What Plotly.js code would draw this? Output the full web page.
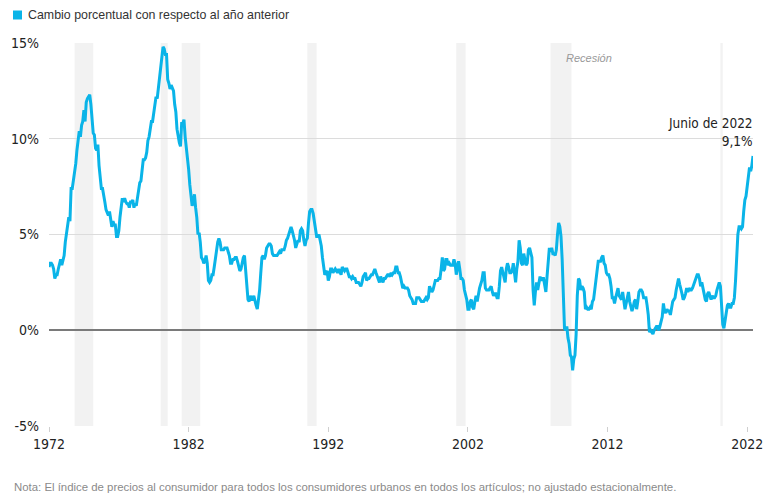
<!DOCTYPE html>
<html>
<head>
<meta charset="utf-8">
<script src="https://cdn.plot.ly/plotly-3.0.1.min.js"></script>
<style>
html,body{margin:0;padding:0;background:#fff;}
#chart{width:780px;height:498px;}
</style>
</head>
<body>
<div id="chart"></div>
<script>
// Monthly CPI-U year-over-year % change, Jan 1972 – Jun 2022 (one row per year)
const startYear = 1972;
const cpiByYear = [
  [3.3, 3.5, 3.5, 3.4, 3.2, 2.7, 2.9, 2.9, 3.2, 3.4, 3.7, 3.4], // 1972
  [3.6, 3.9, 4.6, 5.1, 5.5, 5.9, 5.7, 7.4, 7.4, 7.8, 8.3, 8.7], // 1973
  [9.4, 10.0, 10.4, 10.1, 10.7, 10.9, 11.5, 10.9, 11.9, 12.1, 12.2, 12.3], // 1974
  [11.8, 11.2, 10.3, 10.2, 9.5, 9.4, 9.7, 8.6, 7.9, 7.4, 7.4, 6.9], // 1975
  [6.7, 6.3, 6.1, 6.0, 6.2, 5.9, 5.4, 5.7, 5.5, 5.5, 4.9, 4.9], // 1976
  [5.2, 5.9, 6.4, 6.9, 6.7, 6.9, 6.7, 6.6, 6.6, 6.4, 6.7, 6.7], // 1977
  [6.8, 6.4, 6.6, 6.5, 6.9, 7.4, 7.7, 7.8, 8.3, 8.9, 8.9, 9.0], // 1978
  [9.3, 9.9, 10.1, 10.5, 10.9, 10.9, 11.3, 11.8, 12.2, 12.1, 12.6, 13.3], // 1979
  [13.9, 14.2, 14.8, 14.7, 14.4, 14.4, 13.1, 12.9, 12.6, 12.8, 12.6, 12.5], // 1980
  [11.8, 11.4, 10.5, 10.0, 9.8, 9.6, 10.8, 10.8, 11.0, 10.1, 9.6, 8.9], // 1981
  [8.4, 7.6, 6.8, 6.5, 6.7, 7.1, 6.4, 5.9, 5.0, 5.1, 4.6, 3.8], // 1982
  [3.7, 3.5, 3.6, 3.9, 3.5, 2.6, 2.5, 2.6, 2.9, 2.9, 3.3, 3.8], // 1983
  [4.2, 4.6, 4.8, 4.6, 4.2, 4.2, 4.2, 4.3, 4.3, 4.3, 4.1, 3.9], // 1984
  [3.5, 3.5, 3.7, 3.7, 3.8, 3.8, 3.6, 3.3, 3.1, 3.2, 3.5, 3.8], // 1985
  [3.9, 3.1, 2.2, 1.6, 1.5, 1.8, 1.6, 1.6, 1.8, 1.5, 1.3, 1.1], // 1986
  [1.5, 2.1, 3.0, 3.8, 3.9, 3.7, 3.9, 4.3, 4.4, 4.5, 4.5, 4.4], // 1987
  [4.0, 3.9, 3.9, 3.9, 3.9, 4.0, 4.1, 4.0, 4.2, 4.2, 4.2, 4.4], // 1988
  [4.7, 4.8, 5.0, 5.1, 5.4, 5.2, 5.0, 4.7, 4.3, 4.5, 4.7, 4.6], // 1989
  [5.2, 5.3, 5.2, 4.7, 4.4, 4.7, 4.8, 5.6, 6.2, 6.3, 6.3, 6.1], // 1990
  [5.7, 5.3, 4.9, 4.9, 5.0, 4.7, 4.4, 3.8, 3.4, 2.9, 3.0, 3.1], // 1991
  [2.6, 2.8, 3.2, 3.2, 3.0, 3.1, 3.2, 3.1, 3.0, 3.2, 3.0, 2.9], // 1992
  [3.3, 3.2, 3.1, 3.2, 3.2, 3.0, 2.8, 2.8, 2.7, 2.8, 2.7, 2.7], // 1993
  [2.5, 2.5, 2.5, 2.4, 2.3, 2.5, 2.8, 2.9, 3.0, 2.6, 2.7, 2.7], // 1994
  [2.8, 2.9, 2.9, 3.1, 3.2, 3.0, 2.8, 2.6, 2.5, 2.8, 2.6, 2.5], // 1995
  [2.7, 2.7, 2.8, 2.9, 2.9, 2.8, 3.0, 2.9, 3.0, 3.0, 3.3, 3.3], // 1996
  [3.0, 3.0, 2.8, 2.5, 2.2, 2.3, 2.2, 2.2, 2.2, 2.1, 1.8, 1.7], // 1997
  [1.6, 1.4, 1.4, 1.4, 1.7, 1.7, 1.7, 1.6, 1.5, 1.5, 1.5, 1.6], // 1998
  [1.7, 1.6, 1.7, 2.3, 2.1, 2.0, 2.1, 2.3, 2.6, 2.6, 2.6, 2.7], // 1999
  [2.7, 3.2, 3.8, 3.1, 3.2, 3.7, 3.7, 3.4, 3.5, 3.4, 3.4, 3.4], // 2000
  [3.7, 3.5, 2.9, 3.3, 3.6, 3.2, 2.7, 2.7, 2.6, 2.1, 1.9, 1.6], // 2001
  [1.1, 1.1, 1.5, 1.6, 1.2, 1.1, 1.5, 1.8, 1.5, 2.0, 2.2, 2.4], // 2002
  [2.6, 3.0, 3.0, 2.2, 2.1, 2.1, 2.1, 2.2, 2.3, 2.0, 1.8, 1.9], // 2003
  [1.9, 1.7, 1.7, 2.3, 3.1, 3.3, 3.0, 2.7, 2.5, 3.2, 3.5, 3.3], // 2004
  [3.0, 3.0, 3.1, 3.5, 2.8, 2.5, 3.2, 3.6, 4.7, 4.3, 3.5, 3.4], // 2005
  [4.0, 3.6, 3.4, 3.5, 4.2, 4.3, 4.1, 3.8, 2.1, 1.3, 2.0, 2.5], // 2006
  [2.1, 2.4, 2.8, 2.6, 2.7, 2.7, 2.4, 2.0, 2.8, 3.5, 4.3, 4.1], // 2007
  [4.3, 4.0, 4.0, 3.9, 4.2, 5.0, 5.6, 5.4, 4.9, 3.7, 1.1, 0.1], // 2008
  [0.0, 0.2, -0.4, -0.7, -1.3, -1.4, -2.1, -1.5, -1.3, -0.2, 1.8, 2.7], // 2009
  [2.6, 2.1, 2.3, 2.2, 2.0, 1.1, 1.2, 1.1, 1.1, 1.2, 1.1, 1.5], // 2010
  [1.6, 2.1, 2.7, 3.2, 3.6, 3.6, 3.6, 3.8, 3.9, 3.5, 3.4, 3.0], // 2011
  [2.9, 2.9, 2.7, 2.3, 1.7, 1.7, 1.4, 1.7, 2.0, 2.2, 1.8, 1.7], // 2012
  [1.6, 2.0, 1.5, 1.1, 1.4, 1.8, 2.0, 1.5, 1.2, 1.0, 1.2, 1.5], // 2013
  [1.6, 1.1, 1.5, 2.0, 2.1, 2.1, 2.0, 1.7, 1.7, 1.7, 1.3, 0.8], // 2014
  [-0.1, 0.0, -0.1, -0.2, 0.0, 0.1, 0.2, 0.2, 0.0, 0.2, 0.5, 0.7], // 2015
  [1.4, 1.0, 0.9, 1.1, 1.0, 1.0, 0.8, 1.1, 1.5, 1.6, 1.7, 2.1], // 2016
  [2.5, 2.7, 2.4, 2.2, 1.9, 1.6, 1.7, 1.9, 2.2, 2.0, 2.2, 2.1], // 2017
  [2.1, 2.2, 2.4, 2.5, 2.8, 2.9, 2.9, 2.7, 2.3, 2.5, 2.2, 1.9], // 2018
  [1.6, 1.5, 1.9, 2.0, 1.8, 1.6, 1.8, 1.7, 1.7, 1.8, 2.1, 2.3], // 2019
  [2.5, 2.3, 1.5, 0.3, 0.1, 0.6, 1.0, 1.3, 1.4, 1.2, 1.2, 1.4], // 2020
  [1.4, 1.7, 2.6, 4.2, 5.0, 5.4, 5.4, 5.3, 5.4, 6.2, 6.8, 7.0], // 2021
  [7.5, 7.9, 8.5, 8.3, 8.6, 9.1]                                 // 2022 (Jan–Jun)
];

// Recession periods (decimal years, start/end)
const recessionStarts = [1973.833, 1980.0, 1981.5, 1990.5, 2001.167, 2007.917, 2020.083];
const recessionEnds   = [1975.167, 1980.5, 1982.833, 1991.167, 2001.833, 2009.417, 2020.25];

const tickYears = [1972, 1982, 1992, 2002, 2012, 2022];
const yTicks = [-5, 0, 5, 10, 15];

const legendText = "Cambio porcentual con respecto al año anterior";
const noteText = "Nota: El índice de precios al consumidor para todos los consumidores urbanos en todos los artículos; no ajustado estacionalmente.";
const endLabel = "Junio de 2022<br>9,1%";
const recessionLabel = "Recesión";

// Build series
const xs = [], ys = [];
cpiByYear.forEach((row, i) => {
  row.forEach((v, m) => { xs.push(startYear + i + m / 12); ys.push(v); });
});

const M = {l: 49, r: 27, t: 43, b: 72};
const W = 780, H = 498;
const pw = W - M.l - M.r, ph = H - M.t - M.b;
const px = p => (p - M.l) / pw;          // pixel -> paper x
const py = p => (H - M.b - p) / ph;      // pixel -> paper y

const condensed = "'DejaVu Sans Condensed', 'Liberation Sans Narrow', 'Arial Narrow', sans-serif";
const lineColor = "#0ab4e8";

const shapes = recessionStarts.map((s, i) => ({
  type: 'rect', xref: 'x', yref: 'paper', x0: s, x1: recessionEnds[i], y0: 0, y1: 1,
  fillcolor: '#f2f2f2', line: {width: 0}, layer: 'below'
}));
shapes.push({
  type: 'rect', xref: 'paper', yref: 'paper',
  x0: px(13), x1: px(22), y0: py(19.5), y1: py(10.5),
  fillcolor: lineColor, line: {width: 0}
});

const lastX = xs[xs.length - 1], lastY = ys[ys.length - 1];

const annotations = [
  {xref: 'paper', yref: 'paper', x: px(26), y: py(15), xanchor: 'left', yanchor: 'middle',
   text: legendText, showarrow: false, font: {family: 'Liberation Sans, Arial, sans-serif', size: 12.4, color: '#333'}},
  {xref: 'paper', yref: 'paper', x: px(12), y: py(487), xanchor: 'left', yanchor: 'middle',
   text: noteText, showarrow: false, font: {family: 'Liberation Sans, Arial, sans-serif', size: 11.4, color: '#8a8a8a'}},
  {xref: 'x', yref: 'paper', x: 2008.9, y: py(58), xanchor: 'left', yanchor: 'middle',
   text: '<i>' + recessionLabel + '</i>', showarrow: false, font: {family: 'Liberation Sans, Arial, sans-serif', size: 11, color: '#999'}},
  {xref: 'x', yref: 'y', x: lastX, y: lastY, xanchor: 'right', yanchor: 'bottom', align: 'right',
   xshift: 2, yshift: 5, text: endLabel, showarrow: false,
   font: {family: condensed, size: 13.5, color: '#222'}}
];

const trace = {
  x: xs, y: ys, type: 'scatter', mode: 'lines',
  line: {color: lineColor, width: 3, shape: 'linear'},
  hoverinfo: 'skip'
};

const layout = {
  width: W, height: H,
  margin: M,
  paper_bgcolor: '#fff', plot_bgcolor: '#fff',
  showlegend: false,
  xaxis: {
    range: [1972, lastX], tickvals: tickYears, ticktext: tickYears.map(String),
    showgrid: false, zeroline: false, showline: false,
    ticks: 'outside', ticklen: 5, tickcolor: '#cfcfcf', tickwidth: 1,
    tickfont: {family: condensed, size: 14, color: '#222'}, fixedrange: true
  },
  yaxis: {
    range: [-5, 15], tickvals: yTicks, ticktext: yTicks.map(v => v + '%'),
    showgrid: true, gridcolor: '#dcdcdc', gridwidth: 1,
    zeroline: true, zerolinecolor: '#7a7a7a', zerolinewidth: 2,
    showline: false, ticks: '', ticklabelstandoff: 9,
    tickfont: {family: condensed, size: 14, color: '#222'}, fixedrange: true
  },
  shapes: shapes,
  annotations: annotations
};

Plotly.newPlot('chart', [trace], layout, {displayModeBar: false, staticPlot: true});
</script>
</body>
</html>
